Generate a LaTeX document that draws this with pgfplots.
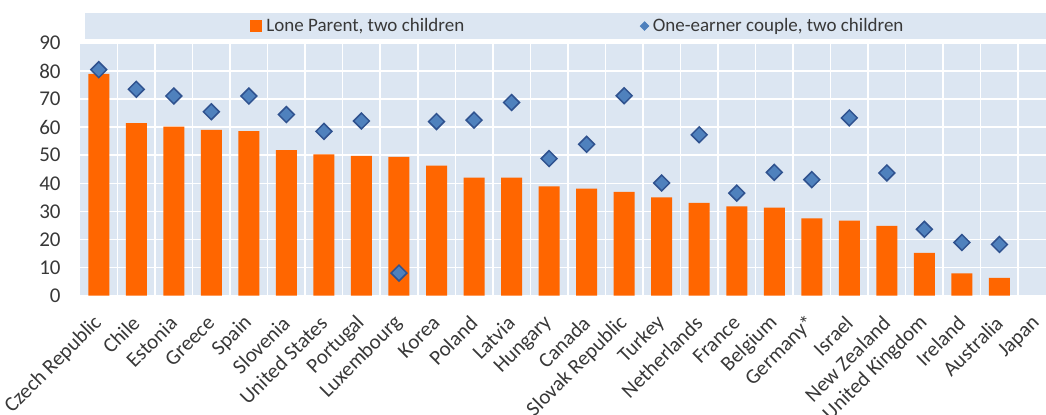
\documentclass[border=0pt]{standalone}
\usepackage{fontspec}
\setmainfont{Carlito}
\usepackage{pgfplots}
\pgfplotsset{compat=1.18}

\definecolor{bgblue}{RGB}{220,230,242}
\definecolor{barorange}{RGB}{255,102,0}
\definecolor{dmfill}{RGB}{79,129,189}
\definecolor{dmedge}{RGB}{47,82,143}
\definecolor{txt}{RGB}{56,56,56}

\begin{document}
\begin{tikzpicture}
% legend band above the plot
\fill[bgblue] (2.5pt,128.25pt) rectangle (483pt,141.25pt);

\begin{axis}[
    at={(0,0)}, anchor=south west,
    scale only axis,
    width=483pt, height=126.25pt,
    xmin=-0.5, xmax=25.24,
    ymin=0, ymax=90,
    axis background/.style={fill=bgblue},
    axis line style={draw=none},
    major tick length=0pt, minor tick length=0pt,
    ytick={0,10,...,90},
    xtick={0,...,25},
    minor xtick={0.5,1.5,...,24.5},
    xticklabels={Czech Republic,Chile,Estonia,Greece,Spain,Slovenia,United States,Portugal,Luxembourg,Korea,Poland,Latvia,Hungary,Canada,Slovak Republic,Turkey,Netherlands,France,Belgium,Germany*,Israel,New Zealand,United Kingdom,Ireland,Australia,Japan},
    ymajorgrids=true, xminorgrids=true,
    grid style={white, line width=0.75pt},
    minor grid style={white, line width=0.75pt},
    /pgf/number format/assume math mode=true,
    yticklabel style={font=\fontsize{10.5}{12}\selectfont, text=txt, anchor=east, inner sep=0pt, xshift=-9.5pt},
    xticklabel style={font=\fontsize{10.5}{12}\selectfont, text=txt, rotate=45, anchor=east, inner sep=0pt},
    xticklabel shift=12pt,
    legend columns=2,
    legend style={at={(0.176,1.0673)}, anchor=west, draw=none, fill=none, inner sep=0pt,
        font=\fontsize{9.5}{11}\selectfont, text=txt,
        /tikz/every even column/.append style={column sep=86pt}},
]
\addplot[ybar, bar width=10.5pt, fill=barorange, draw=none,
    legend image code/.code={\fill[barorange] (0pt,-3pt) rectangle (6pt,3pt);}]
coordinates {
    (0,79.0) (1,61.4) (2,60.2) (3,59.0) (4,58.6) (5,51.8) (6,50.3) (7,49.8)
    (8,49.4) (9,46.3) (10,42.0) (11,42.0) (12,38.9) (13,38.1) (14,36.9)
    (15,35.0) (16,33.0) (17,31.8) (18,31.3) (19,27.5) (20,26.7) (21,24.8)
    (22,15.2) (23,7.9) (24,6.3)
};
\addlegendentry{Lone Parent, two children}

\addplot[only marks, mark=square*, mark size=2.8pt,
    mark options={rotate=45, fill=dmfill, draw=dmedge, line width=0.75pt},
    legend image code/.code={\draw[mark=square*, mark size=1.5pt, mark options={rotate=45, fill=dmfill, draw=dmfill}] plot coordinates {(3pt,0pt)};}]
coordinates {
    (0,80.5) (1,73.5) (2,71.1) (3,65.5) (4,71.1) (5,64.5) (6,58.5) (7,62.2)
    (8,8.0) (9,62.0) (10,62.5) (11,68.8) (12,48.8) (13,53.9) (14,71.2)
    (15,40.1) (16,57.3) (17,36.5) (18,43.9) (19,41.3) (20,63.3) (21,43.7)
    (22,23.6) (23,18.9) (24,18.2)
};
\addlegendentry{One-earner couple, two children}
\end{axis}

\pgfresetboundingbox
\path[use as bounding box] (-40pt,-59.25pt) rectangle (483pt,147.75pt);
\end{tikzpicture}
\end{document}
